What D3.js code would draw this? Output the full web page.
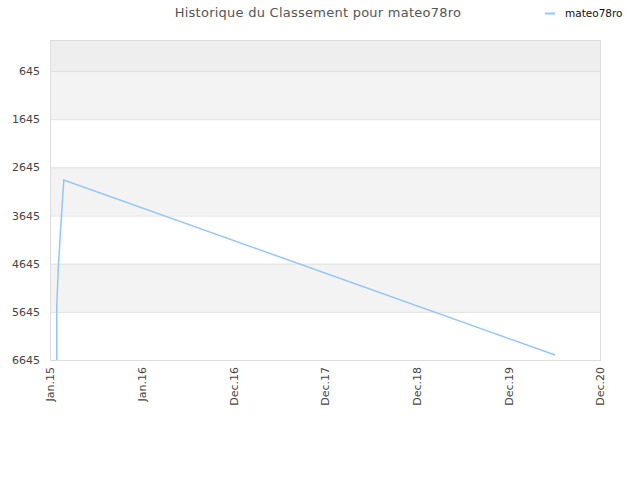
<!DOCTYPE html>
<html>
<head>
<meta charset="utf-8">
<script src="https://cdn.jsdelivr.net/npm/d3@7"></script>
<style>
  body { margin: 0; background: #fff; }
  text { font-family: "DejaVu Sans", sans-serif; }
</style>
</head>
<body>
<svg class="chart" width="640" height="480"></svg>
<script>
const title = "Historique du Classement pour mateo78ro";
const seriesName = "mateo78ro";

// rank history
const dates = ["2015-01-28", "2015-01-28", "2015-02-03", "2015-02-12", "2015-02-25", "2020-07-04"];
const ranks = [6645, 5524, 4735, 3946, 2907, 6541];

const yTicks = [645, 1645, 2645, 3645, 4645, 5645, 6645];
const xTicks = ["2015-01-01", "2016-01-01", "2016-12-31", "2017-12-31", "2018-12-31", "2019-12-31", "2020-12-30"];

const margin = { top: 40, right: 40, bottom: 120, left: 50 };
const W = 640;
const H = 480;
const width = W - margin.left - margin.right;
const height = H - margin.top - margin.bottom;

const parse = d3.timeParse("%Y-%m-%d");
const data = dates.map((d, i) => ({ date: parse(d), rank: ranks[i] }));

const $svg = d3.select(".chart");

const x = d3.scaleTime()
  .domain([parse(xTicks[0]), parse(xTicks[xTicks.length - 1])])
  .range([0, width]);
const y = d3.scaleLinear().domain([0, 6645]).range([0, height]);

const $g = $svg.append("g").attr("transform", `translate(${margin.left},${margin.top})`);

// background bands
const bands = [[0, yTicks[0]]].concat(yTicks.slice(0, -1).map((t, i) => [t, yTicks[i + 1]]));
$g.selectAll(".band")
  .data(bands)
  .enter()
  .append("rect")
  .attr("x", 0)
  .attr("width", width)
  .attr("y", (d) => y(d[0]))
  .attr("height", (d) => y(d[1]) - y(d[0]))
  .attr("fill", (d, i) => (i === 0 ? "#eeeeee" : i % 2 === 1 ? "#f3f3f3" : "#ffffff"));

// grid lines
$g.selectAll(".grid")
  .data(yTicks)
  .enter()
  .append("line")
  .attr("x1", 0)
  .attr("x2", width)
  .attr("y1", (d) => y(d) + 0.5)
  .attr("y2", (d) => y(d) + 0.5)
  .attr("stroke", "#e0e0e0");

// frame
$g.append("rect")
  .attr("x", 0.5)
  .attr("y", 0.5)
  .attr("width", width)
  .attr("height", height)
  .attr("fill", "none")
  .attr("stroke", "#dddddd");

// y axis
const yAxis = d3.axisLeft(y).tickValues(yTicks).tickSize(0).tickPadding(10).tickFormat(d3.format("d"));
$g.append("g")
  .call(yAxis)
  .call((g) => g.select(".domain").remove())
  .selectAll("text")
  .attr("fill", "#444")
  .style("font-size", "11px");

// x axis
const xAxis = d3.axisBottom(x)
  .tickValues(xTicks.map(parse))
  .tickSize(0)
  .tickFormat(d3.timeFormat("%b.%y"));
$g.append("g")
  .attr("transform", `translate(0,${height})`)
  .call(xAxis)
  .call((g) => g.select(".domain").remove())
  .selectAll("text")
  .attr("fill", "#444")
  .style("font-size", "11px")
  .attr("text-anchor", "end")
  .attr("transform", "rotate(-90)")
  .attr("x", -7)
  .attr("y", 0)
  .attr("dy", "0.35em");

// line
const line = d3.line()
  .x((d) => x(d.date))
  .y((d) => y(d.rank));
$g.append("path")
  .datum(data)
  .attr("d", line)
  .attr("fill", "none")
  .attr("stroke", "#95c5f5")
  .attr("stroke-width", 1.5);

// title
$svg.append("text")
  .attr("x", 318)
  .attr("y", 17)
  .attr("text-anchor", "middle")
  .attr("fill", "#555")
  .style("font-size", "13px")
  .style("letter-spacing", "0.25px")
  .text(title);

// legend
$svg.append("line")
  .attr("x1", 545)
  .attr("x2", 555)
  .attr("y1", 13.5)
  .attr("y2", 13.5)
  .attr("stroke", "#95c5f5")
  .attr("stroke-width", 2);
$svg.append("text")
  .attr("x", 565)
  .attr("y", 17)
  .attr("fill", "#111")
  .style("font-size", "10.5px")
  .text(seriesName);
</script>
</body>
</html>
